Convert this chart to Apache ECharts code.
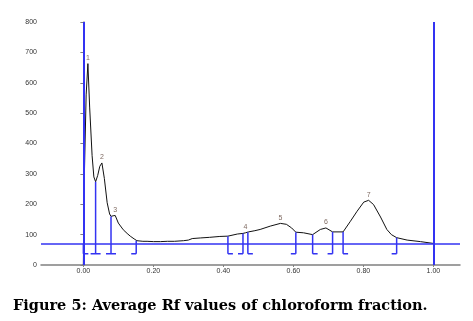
<!DOCTYPE html>
<html>
<head>
<meta charset="utf-8">
<script src="https://cdn.jsdelivr.net/npm/echarts@6/dist/echarts.min.js"></script>
<style>
  html, body { margin: 0; padding: 0; background: #fff; }
  #chart { width: 473px; height: 321px; }
</style>
</head>
<body>
<div id="chart"></div>
<script>
// densitometric scan (Rf vs intensity)
const rfValues = [0.000, 0.003, 0.008, 0.013, 0.018, 0.025, 0.030, 0.035, 0.041, 0.047, 0.053, 0.060, 0.068, 0.075, 0.079, 0.085, 0.091, 0.100, 0.114, 0.125, 0.134, 0.145, 0.153, 0.170, 0.182, 0.200, 0.220, 0.240, 0.260, 0.286, 0.300, 0.311, 0.334, 0.360, 0.390, 0.413, 0.440, 0.456, 0.463, 0.472, 0.490, 0.505, 0.534, 0.563, 0.580, 0.595, 0.607, 0.629, 0.655, 0.677, 0.693, 0.712, 0.742, 0.763, 0.782, 0.801, 0.815, 0.829, 0.849, 0.867, 0.880, 0.895, 0.925, 0.963, 1.000];
const intensity = [0, 300, 560, 663, 520, 360, 290, 274, 295, 325, 336, 285, 205, 168, 160, 162, 163, 138, 116, 104, 95, 86, 80, 78, 78, 77, 77, 78, 78, 80, 82, 87, 89, 91, 94, 95, 102, 104, 106, 109, 113, 117, 128, 137, 134, 122, 108, 106, 100, 117, 122, 109, 109, 144, 177, 207, 213, 199, 158, 117, 100, 90, 82, 77, 71];

// peak labels
const peakNames = ['1', '2', '3', '4', '5', '6', '7'];
const peakRf = [0.013, 0.053, 0.091, 0.463, 0.563, 0.693, 0.815];
const peakValue = [663, 336, 163, 106, 137, 122, 213];

// integration boundaries: position, top of the drop line, side of the foot
const boundaryRf = [0.000, 0.035, 0.079, 0.151, 0.413, 0.456, 0.470, 0.607, 0.655, 0.712, 0.742, 0.895];
const boundaryTop = [70, 274, 160, 80, 95, 104, 108, 108, 100, 109, 109, 90];
const boundarySide = ['R', 'B', 'B', 'L', 'R', 'L', 'R', 'L', 'R', 'L', 'R', 'L'];
const boundaryFloor = 37;

const baselineValue = 70;
const xTickValues = [0, 0.2, 0.4, 0.6, 0.8, 1.0];
const blue = '#3333f2';

const chart = echarts.init(document.getElementById('chart'));
const option = {
  animation: false,
  title: {
    text: 'Figure 5: Average Rf values of chloroform fraction.',
    left: 8,
    top: 294,
    textStyle: {
      fontFamily: 'DejaVu Serif',
      fontWeight: 'bold',
      fontSize: 14.5,
      color: '#000'
    }
  },
  grid: { left: 41, top: 22, width: 419, height: 243 },
  xAxis: {
    type: 'value',
    min: -0.121,
    max: 1.076,
    splitLine: { show: false },
    axisLine: { lineStyle: { color: '#808080', width: 1.5 } },
    axisTick: { customValues: xTickValues, length: 2, lineStyle: { color: '#808080' } },
    axisLabel: {
      customValues: xTickValues,
      formatter: v => v.toFixed(2),
      fontSize: 7,
      color: '#333',
      margin: 3,
      fontFamily: 'Liberation Sans'
    }
  },
  yAxis: {
    type: 'value',
    min: 0,
    max: 800,
    interval: 100,
    splitLine: { show: false },
    axisLine: { show: true, lineStyle: { color: '#808080', width: 1.5 } },
    axisTick: { show: true, length: 3, lineStyle: { color: '#808080' } },
    axisLabel: { fontSize: 7, color: '#333', margin: 4, fontFamily: 'Liberation Sans' }
  },
  series: [
    {
      type: 'line',
      data: rfValues.map((r, i) => [r, intensity[i]]),
      showSymbol: false,
      lineStyle: { color: '#111', width: 1 },
      z: 3,
      markLine: {
        symbol: 'none',
        silent: true,
        label: { show: false },
        data: [
          { xAxis: 0, lineStyle: { color: blue, width: 2, type: 'solid' } },
          { xAxis: 1, lineStyle: { color: blue, width: 2, type: 'solid' } },
          { yAxis: baselineValue, lineStyle: { color: blue, width: 1.5, type: 'solid' } }
        ]
      }
    },
    {
      type: 'custom',
      data: boundaryRf.map((r, i) => [r, boundaryTop[i], boundaryFloor, i]),
      z: 4,
      renderItem: (params, api) => {
        const top = api.coord([api.value(0), api.value(1)]);
        const bot = api.coord([api.value(0), api.value(2)]);
        const side = boundarySide[api.value(3)];
        const foot = 5;
        const x0 = side === 'R' ? bot[0] : bot[0] - foot;
        const x1 = side === 'L' ? bot[0] : bot[0] + foot;
        const style = { stroke: blue, lineWidth: 1.5, fill: null };
        return {
          type: 'group',
          children: [
            { type: 'line', shape: { x1: top[0], y1: top[1], x2: bot[0], y2: bot[1] }, style },
            { type: 'line', shape: { x1: x0, y1: bot[1], x2: x1, y2: bot[1] }, style }
          ]
        };
      }
    },
    {
      type: 'scatter',
      data: peakRf.map((r, i) => ({ value: [r, peakValue[i]], name: peakNames[i] })),
      symbolSize: 0,
      silent: true,
      label: {
        show: true,
        position: 'top',
        distance: 2,
        formatter: p => p.name,
        fontSize: 7,
        color: '#5e4438',
        fontFamily: 'Liberation Sans'
      }
    }
  ]
};
chart.setOption(option);
</script>
</body>
</html>
